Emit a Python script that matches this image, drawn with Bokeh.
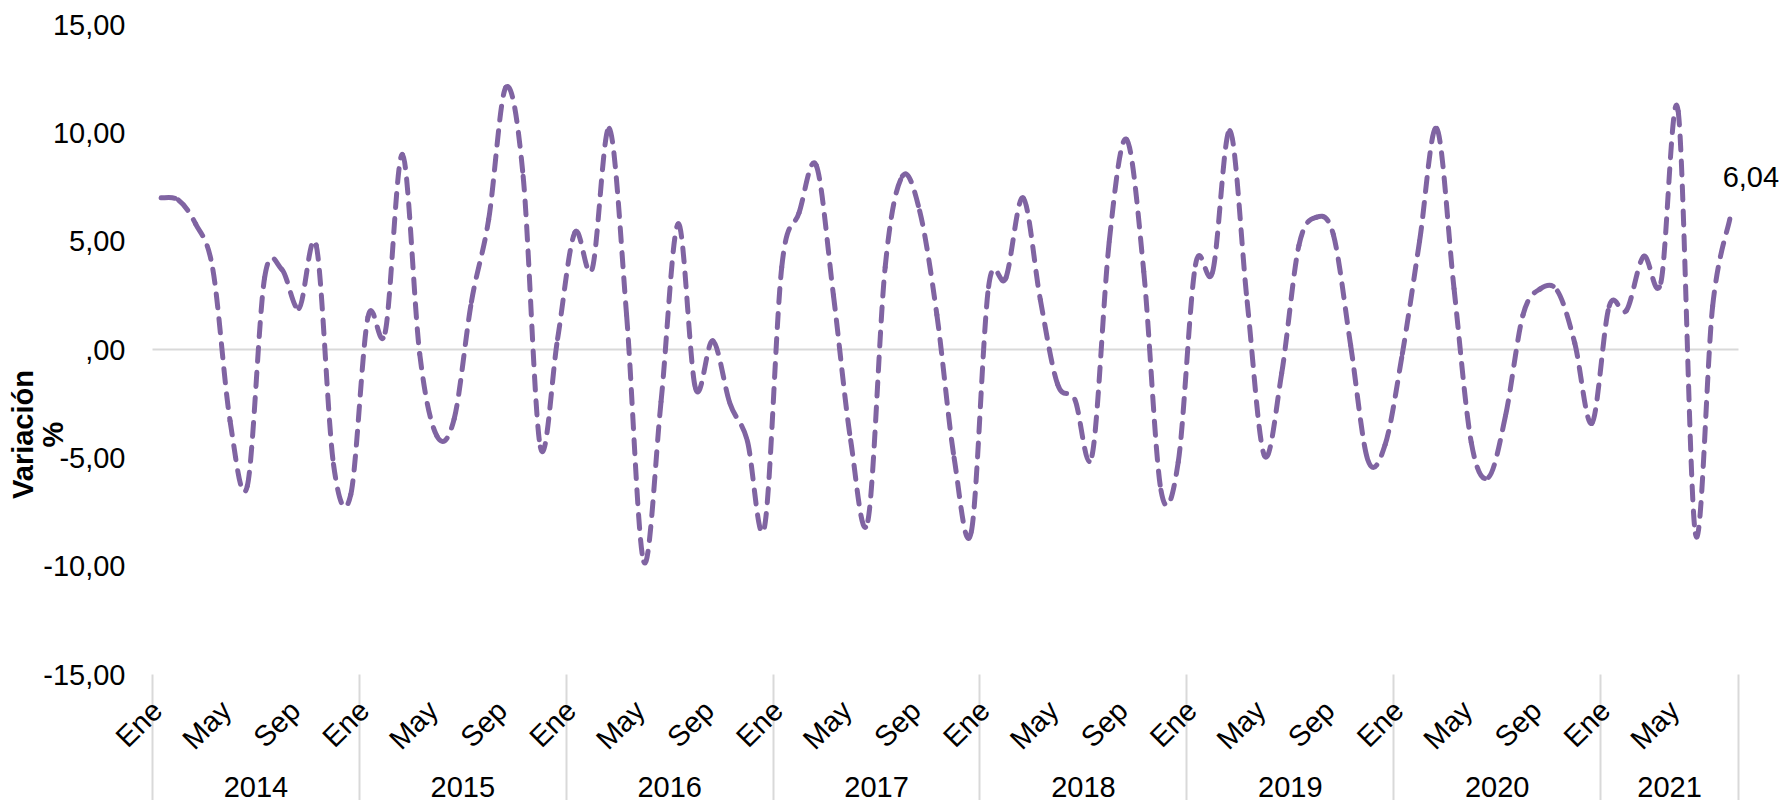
from math import pi
from bokeh.plotting import figure
from bokeh.models import FixedTicker, LinearAxis, Label, LabelSet, Range1d, ColumnDataSource
from bokeh.core.properties import value
from bokeh.embed import file_html
from bokeh.resources import INLINE

# ---------------- data ----------------
years = ["2014", "2015", "2016", "2017", "2018", "2019", "2020", "2021"]
month_abbr = ["Ene", "Feb", "Mar", "Abr", "May", "Jun", "Jul", "Ago", "Sep", "Oct", "Nov", "Dic"]
labelled_months = ["Ene", "May", "Sep"]

v2014 = [7.0, 6.9, 5.8, 3.7, -3.3, -6.3, 3.3, 3.7, 1.9, 4.8, -5.3, -6.7]
v2015 = [1.5, 0.8, 9.0, -0.2, -4.0, -3.2, 2.2, 6.0, 12.1, 8.0, -4.5, 0.5]
v2016 = [5.4, 3.7, 10.2, 1.6, -9.8, -2.4, 5.8, -1.8, 0.4, -2.5, -4.2, -8.2]
v2017 = [3.8, 6.3, 8.5, 2.5, -4.2, -7.9, 3.8, 8.0, 6.4, 1.6, -5.0, -8.4]
v2018 = [2.9, 3.3, 7.0, 2.3, -1.6, -2.3, -4.9, 5.0, 9.7, 3.6, -6.5, -5.2]
v2019 = [3.9, 3.6, 10.1, 2.2, -4.9, -1.1, 4.8, 6.1, 5.3, 0.2, -5.1, -4.4]
v2020 = [-0.2, 5.0, 10.2, 2.8, -4.3, -5.9, -3.0, 1.6, 2.8, 2.7, 0.3, -3.4]
v2021 = [2.0, 1.8, 4.3, 3.1, 11.0, -8.5, 2.0, 6.04]

y_ticks = [-15, -10, -5, 0, 5, 10, 15]
y_tick_labels = ["-15,00", "-10,00", "-5,00", ",00", "5,00", "10,00", "15,00"]
y_title = "Variación"
y_unit = "%"

# ---------------- derived ----------------
per_year = [v2014, v2015, v2016, v2017, v2018, v2019, v2020, v2021]
series = [v for yr in per_year for v in yr]
n = len(series)
xs = list(range(n))
month_of = [month_abbr[i % 12] for i in xs]

bounds = [-0.5]
for yr in per_year:
    bounds.append(bounds[-1] + len(yr))
year_centers = [(bounds[k] + bounds[k + 1]) / 2 for k in range(len(years))]

month_ticks = [i for i in xs if month_of[i] in labelled_months]
month_src = ColumnDataSource(dict(x=month_ticks,
                                  y=[y_ticks[0]] * len(month_ticks),
                                  text=[month_of[i] for i in month_ticks]))
year_src = ColumnDataSource(dict(x=year_centers, y=[y_ticks[0]] * len(years), text=years))

def pt(i):
    i = max(0, min(n - 1, i))
    return xs[i], series[i]

seg = dict(x0=[], y0=[], x1=[], y1=[], cx0=[], cy0=[], cx1=[], cy1=[])
for i in range(n - 1):
    xa, ya = pt(i)
    xb, yb = pt(i + 1)
    xp, yp = pt(i - 1)
    xn, yn = pt(i + 2)
    seg["x0"].append(xa); seg["y0"].append(ya)
    seg["x1"].append(xb); seg["y1"].append(yb)
    seg["cx0"].append(xa + (xb - xp) / 6.0); seg["cy0"].append(ya + (yb - yp) / 6.0)
    seg["cx1"].append(xb - (xn - xa) / 6.0); seg["cy1"].append(yb - (yn - ya) / 6.0)
src = ColumnDataSource(seg)

# ---------------- layout constants (pixels) ----------------
W, H = 1784, 800
PLOT_L, PLOT_R = 152, 1738      # category area
PLOT_T, PLOT_B = 24, 674        # value area
ppx = (PLOT_R - PLOT_L) / (bounds[-1] - bounds[0])
ppy = (PLOT_B - PLOT_T) / (y_ticks[-1] - y_ticks[0])
x_start = bounds[0] - PLOT_L / ppx
x_end = bounds[-1] + (W - PLOT_R) / ppx
y_start = y_ticks[0] - (H - PLOT_B) / ppy
y_end = y_ticks[-1] + PLOT_T / ppy

FONT = "Liberation Sans"
FS = "29px"
GRAY = "#d9d9d9"
PURPLE = "#8064A2"

p = figure(width=W, height=H,
           x_range=Range1d(x_start, x_end), y_range=Range1d(y_start, y_end),
           x_axis_type=None, y_axis_type=None, output_backend="svg", toolbar_location=None,
           min_border_left=0, min_border_right=0, min_border_top=0, min_border_bottom=0)
p.outline_line_color = None
p.grid.visible = False
p.background_fill_color = "white"
p.border_fill_color = "white"

# y axis (value scale)
yax = LinearAxis(ticker=FixedTicker(ticks=y_ticks, minor_ticks=[]),
                 major_label_overrides=dict(zip(y_ticks, y_tick_labels)),
                 fixed_location=bounds[0])
yax.axis_line_color = None
yax.major_tick_line_color = None
yax.minor_tick_line_color = None
yax.major_tick_out = 0
yax.major_tick_in = 0
yax.major_label_standoff = 27
yax.major_label_text_font = FONT
yax.major_label_text_font_size = FS
yax.major_label_text_color = "black"
p.add_layout(yax, "left")

# category axis: year separators drawn as its minor ticks
sep_ticks = [bounds[0] + 1e-3] + bounds[1:-1] + [bounds[-1] - 1e-3]
sep_ax = LinearAxis(ticker=FixedTicker(ticks=[], minor_ticks=sep_ticks),
                    fixed_location=y_ticks[0])
sep_ax.axis_line_color = None
sep_ax.major_tick_line_color = None
sep_ax.major_tick_out = 0
sep_ax.major_tick_in = 0
sep_ax.minor_tick_in = 0
sep_ax.minor_tick_out = 140
sep_ax.minor_tick_line_color = GRAY
sep_ax.minor_tick_line_width = 2
p.add_layout(sep_ax, "below")

# month labels (rotated), anchored under each labelled month
p.add_layout(LabelSet(x="x", y="y", text="text", source=month_src,
                      angle=pi / 4, text_align="right", text_baseline="middle",
                      x_offset=-4, y_offset=-31,
                      text_font=value(FONT), text_font_size=value(FS), text_color="black"))

# year labels, centred under each year
p.add_layout(LabelSet(x="x", y="y", text="text", source=year_src,
                      text_align="center", text_baseline="middle",
                      x_offset=0, y_offset=-112,
                      text_font=value(FONT), text_font_size=value(FS), text_color="black"))

# zero line across the category area
p.segment(x0=[bounds[0]], y0=[0], x1=[bounds[-1]], y1=[0], line_color=GRAY, line_width=2, level="underlay")

# smoothed dashed line
p.bezier(x0="x0", y0="y0", x1="x1", y1="y1", cx0="cx0", cy0="cy0", cx1="cx1", cy1="cy1",
         source=src, line_color=PURPLE, line_width=5, line_dash="14 11", line_cap="round")

# last value label
last_txt = ("%.2f" % series[-1]).replace(".", ",")
p.add_layout(Label(x=xs[-1], y=series[-1], text=last_txt, x_offset=21, y_offset=42,
                   text_align="center", text_baseline="middle",
                   text_font=FONT, text_font_size=FS, text_color="black"))

# y axis title (two lines, rotated)
title_y = y_ticks[-1] - (434 - PLOT_T) / ppy
p.add_layout(Label(x=x_start + 22.5 / ppx, y=title_y, text=y_title,
                   angle=pi / 2, text_align="center", text_baseline="middle",
                   text_font=FONT, text_font_size=FS, text_font_style="bold", text_color="black"))
p.add_layout(Label(x=x_start + 52.5 / ppx, y=title_y, text=y_unit,
                   angle=pi / 2, text_align="center", text_baseline="middle",
                   text_font=FONT, text_font_size=FS, text_font_style="bold", text_color="black"))

open("out.html", "w").write(file_html(p, INLINE))
